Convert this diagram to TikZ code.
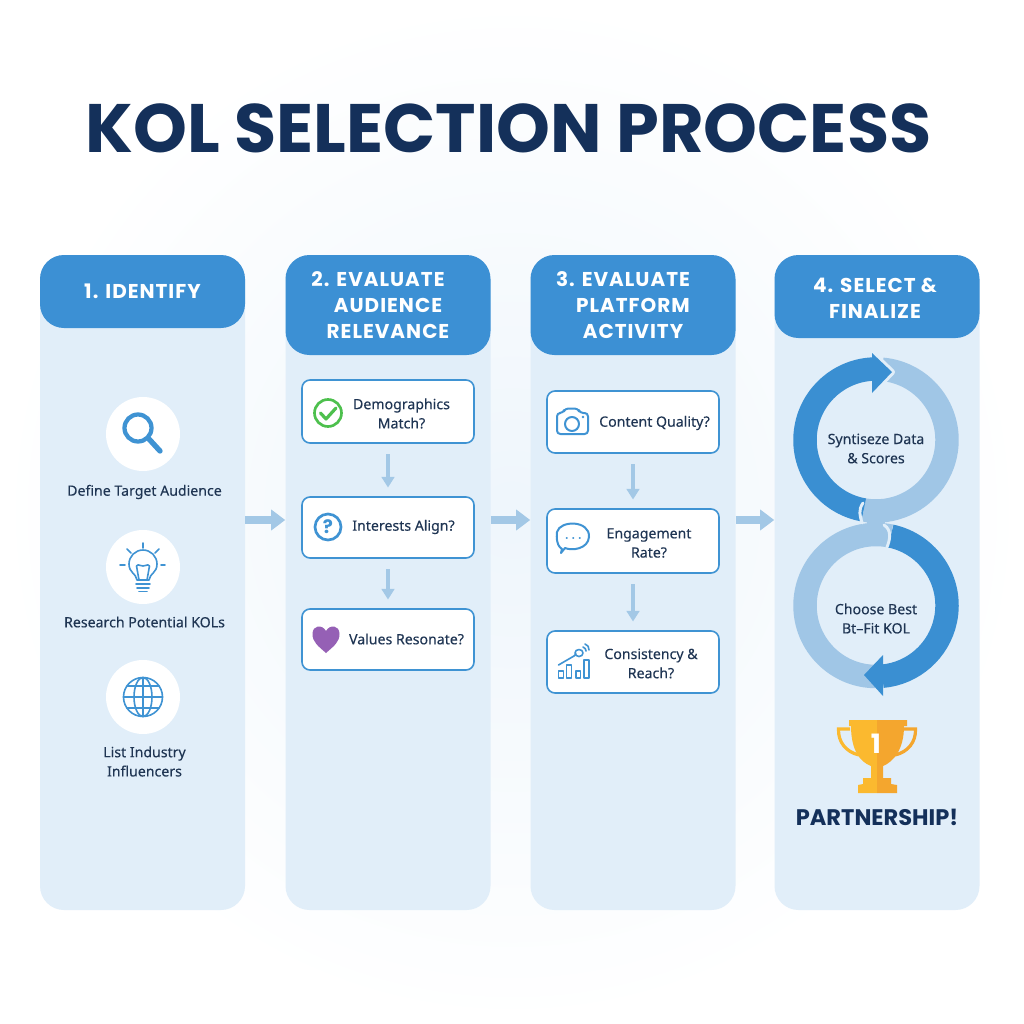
\documentclass[tikz,border=0pt]{standalone}
\usepackage{fontspec}
\setmainfont{Noto Sans}[FakeBold=0.2]
\newfontfamily\boldfam{Poppins}
\newfontfamily\headfam{Poppins}[LetterSpace=5]
\usetikzlibrary{arrows.meta,calc}
\definecolor{colbg}{HTML}{E1EEF9}
\definecolor{headblue}{HTML}{3C90D4}
\definecolor{lineblue}{HTML}{3F93D3}
\definecolor{ringdark}{HTML}{3A8FD2}
\definecolor{ringlight}{HTML}{A0C6E6}
\definecolor{arrowblue}{HTML}{A3C8E6}
\definecolor{navy}{HTML}{14305A}
\definecolor{bodytext}{HTML}{1F3553}
\definecolor{checkgreen}{HTML}{4DC04D}
\definecolor{heartpurple}{HTML}{9560B5}
\definecolor{goldA}{HTML}{FBB92F}
\definecolor{goldB}{HTML}{F4A62E}
\tikzset{
 colbox/.style={rectangle,rounded corners=18pt,fill=colbg,minimum width=153.75pt,minimum height=491.25pt,inner sep=0},
 headbox/.style={rectangle,rounded corners=18pt,fill=headblue,minimum width=153.75pt,inner sep=0},
 headtext/.style={text=white,align=center,font=\fontsize{15}{19.5}\headfam\selectfont\bfseries,inner sep=0},
 qbox/.style={rectangle,rounded corners=6pt,draw=lineblue,line width=1.2pt,fill=white,minimum width=129pt,inner sep=0},
 bodylabel/.style={text=bodytext,align=center,font=\fontsize{10.6}{14.4}\selectfont,inner sep=0},
 iconcircle/.style={circle,fill=white,minimum size=55.5pt,inner sep=0},
 hflow/.style={draw=arrowblue,line width=6pt,-{Triangle[length=10.5pt,width=15pt]}},
 vflow/.style={draw=arrowblue,line width=3.4pt,-{Triangle[length=8pt,width=9.5pt]},shorten <=8pt,shorten >=6.5pt},
 iconline/.style={draw=lineblue,line width=1.2pt,line cap=round,line join=round},
 ringD/.style={draw=ringdark,line width=17.6pt},
 ringL/.style={draw=ringlight,line width=17.6pt},
 ringgap/.style={draw=colbg,line width=2.2pt,line cap=round},
}
\begin{document}
\begin{tikzpicture}[x=0.75pt,y=-0.75pt]
\useasboundingbox (0,0) rectangle (1024,1024);
\shade[inner color=colbg!55,outer color=white] (0,0) rectangle (1024,1024);
\node[text=navy,inner sep=0,font=\fontsize{51.4}{60}\boldfam\selectfont\bfseries] (title) at (508.5,128) {KOL SELECTION PROCESS};
% columns
\node[colbox] (col1) at (142.5,582.5) {};
\node[colbox] (col2) at (388,582.5) {};
\node[colbox] (col3) at (633,582.5) {};
\node[colbox] (col4) at (877,582.5) {};
\node[headbox,minimum height=54.75pt] (h1) at (142.5,291.5) {};
\node[headbox,minimum height=75pt] (h2) at (388,305) {};
\node[headbox,minimum height=75pt] (h3) at (633,305) {};
\node[headbox,minimum height=62.25pt] (h4) at (877,296.5) {};
\node[headtext] (t1) at (142.5,291) {1. IDENTIFY};
\node[headtext] (t2) at (388,305) {2. EVALUATE\hspace*{15pt}\\AUDIENCE\\RELEVANCE};
\node[headtext] (t3) at (633,305) {3. EVALUATE\hspace*{15pt}\\PLATFORM\\ACTIVITY};
\node[headtext] (t4) at (875,298) {4. SELECT \&\\FINALIZE};
% flow between columns
\coordinate (rowy) at (0,520);
\draw[hflow] (col1.east |- rowy) -- (col2.west |- rowy);
\draw[hflow] (col2.east |- rowy) -- (col3.west |- rowy);
\draw[hflow] (col3.east |- rowy) -- (col4.west |- rowy);
% column 1
\node[iconcircle] (c1) at (143,434) {};
\node[iconcircle] (c2) at (143,567) {};
\node[iconcircle] (c3) at (143,697) {};
\node[bodylabel] (l1) at (144.5,492) {Define Target Audience};
\node[bodylabel] (l2) at (144.5,622) {Research Potential KOLs};
\node[bodylabel] (l3) at (144.5,761.5) {List Industry\\Influencers};
% magnifier
\draw[lineblue,line width=3.2pt] (138,428) circle (13.5);
\draw[lineblue,line width=4pt,line cap=round] (149,439) -- (160,451);
% bulb
\begin{scope}[iconline]
\draw (137,580) .. controls (136,573) and (129,573) .. (129,564) arc (180:360:14) .. controls (157,573) and (150,573) .. (149,580) -- cycle;
\draw (139,580) -- (136.5,566) .. controls (139,563) and (140,567) .. (143,566) .. controls (146,567) and (147,563) .. (149.5,566) -- (147,580);
\draw (136,584) -- (150,584);
\draw (137,588) -- (149,588);
\draw (139,591.5) -- (147,591.5);
\draw (143,543) -- (143,548);
\draw (127,549) -- (131,553);
\draw (159,549) -- (155,553);
\draw (120,565) -- (125,565);
\draw (161,565) -- (165,565);
\end{scope}
% globe
\begin{scope}[iconline]
\draw (143,697) circle (19.5);
\draw (143,697) ellipse (9 and 19.5);
\draw (143,677.5) -- (143,716.5);
\draw (123.5,697) -- (162.5,697);
\draw (127,686) -- (159,686);
\draw (127,708) -- (159,708);
\end{scope}
% column 2
\node[qbox,minimum height=47.25pt] (b1) at (388,411.5) {};
\node[qbox,minimum height=45.75pt] (b2) at (388,527.5) {};
\node[qbox,minimum height=45.75pt] (b3) at (388,639.5) {};
\draw[vflow] (b1) -- (b2);
\draw[vflow] (b2) -- (b3);
\node[bodylabel] at (401.5,413.5) {Demographics\\Match?};
\node[bodylabel] at (403.5,527) {Interests Align?};
\node[bodylabel] at (406.5,639) {Values Resonate?};
\draw[checkgreen,line width=2pt] (328,413) circle (13.5);
\draw[checkgreen,line width=2.4pt,line cap=round,line join=round] (320.5,413) -- (326,419) -- (336,408);
\draw[lineblue,line width=2pt] (328,527) circle (13);
\node[text=lineblue,inner sep=0,font=\fontsize{14}{14}\boldfam\selectfont\bfseries] at (328,527) {?};
\fill[heartpurple] (326,653) .. controls (318,646) and (312.5,642) .. (312.5,634) .. controls (312.5,625) and (322,624) .. (326,631) .. controls (330,624) and (339.5,625) .. (339.5,634) .. controls (339.5,642) and (334,646) .. (326,653) -- cycle;
% column 3
\node[qbox,minimum height=46.5pt] (b4) at (633,422) {};
\node[qbox,minimum height=48pt] (b5) at (633,541) {};
\node[qbox,minimum height=46.5pt] (b6) at (633,662) {};
\draw[vflow] (b4) -- (b5);
\draw[vflow] (b5) -- (b6);
\node[bodylabel] at (654.5,423) {Content Quality?};
\node[bodylabel] at (649,543) {Engagement\\Rate?};
\node[bodylabel] at (651,663.5) {Consistency \&\\Reach?};
\begin{scope}[iconline]
\draw[line width=1.5pt,rounded corners=2.5pt] (557,434) -- (557,413) -- (563,413) -- (565,408.5) -- (578,408.5) -- (580,413) -- (588,413) -- (588,434) -- cycle;
\draw[line width=1.5pt] (572,424) circle (7);
\fill[lineblue,draw=none] (583,417) circle (1.4);
\draw[line width=1.5pt] (562,549) .. controls (555,545) and (557,532) .. (557,532) .. controls (560,520) and (590,520) .. (589,537) .. controls (588,549) and (572,551) .. (565,548) -- (561,553) -- cycle;
\draw (566.5,538) -- (567,538);
\draw (573,538) -- (573.5,538);
\draw (579.5,538) -- (580,538);
\draw (558.5,671) rectangle (563.5,678);
\draw (566.5,665) rectangle (571.5,678);
\draw (576,671) rectangle (580.5,678);
\draw (584,660) rectangle (589,678);
\draw (558.5,665) -- (574,656);
\draw (574,656) -- (576,654);
\draw (579,653) ellipse (4 and 3.5);
\draw (583,647) .. controls (585,648) and (586,649) .. (586,651);
\draw (585,644) .. controls (588,645) and (589,647) .. (589,650);
\end{scope}
% column 4: rings (angles run clockwise because y points down)
\draw[ringL] (876,440) ++(-85:71) arc (-85:100:71);
\draw[draw=colbg,line width=4.5pt,line join=round] (872,353) -- (892,372) -- (872,393);
\draw[ringD] (876,440) ++(100:71) arc (100:268:71);
\draw[ringL] (876,605.5) ++(90:71) arc (90:282:71);
\fill[ringlight] (866,514) -- (884,514) -- (886,536) -- (868,536) -- cycle;
\draw[ringD] (876,605.5) ++(282:71) arc (282:445:71);
\fill[ringdark] (872,353) -- (892,372) -- (872,393) -- cycle;
\fill[ringdark] (883,655) -- (864,675) -- (883,696) -- cycle;
\draw[ringgap] (863,503) .. controls (858,510) and (860,516) .. (862,523);
\draw[ringgap] (884,525) .. controls (892,530) and (890,540) .. (887,547);
\node[bodylabel] (s1) at (876,448.5) {Syntiseze Data\\\& Scores};
\node[bodylabel] (s2) at (876,618.5) {Choose Best\\Bt–Fit KOL};
% trophy
\draw[goldA,line width=2.4pt] (850,729) -- (838.5,729) .. controls (838,742) and (846,752) .. (859,755);
\draw[goldB,line width=2.4pt] (904,729) -- (915.5,729) .. controls (916,742) and (908,752) .. (895,755);
\fill[goldA] (849,720) -- (877,720) -- (877,778) -- (871,778) -- (871,766) .. controls (860,762) and (851,750) .. (851,726) -- (849,726) -- cycle;
\fill[goldB] (877,720) -- (907,720) -- (907,726) -- (904,726) .. controls (904,750) and (893,762) .. (883,766) -- (883,778) -- (877,778) -- cycle;
\fill[goldA] (863,778) -- (877,778) -- (877,793) -- (858,793) -- (858,785) -- (863,784) -- cycle;
\fill[goldB] (877,778) -- (891,778) -- (891,784) -- (897,785) -- (897,793) -- (877,793) -- cycle;
\node[text=white,inner sep=0,font=\fontsize{20}{20}\boldfam\selectfont\bfseries] (one) at (876,744) {1};
\node[text=navy,inner sep=0,font=\fontsize{16.9}{18}\boldfam\selectfont\bfseries] (p) at (877,817) {PARTNERSHIP!};
\end{tikzpicture}
\end{document}
